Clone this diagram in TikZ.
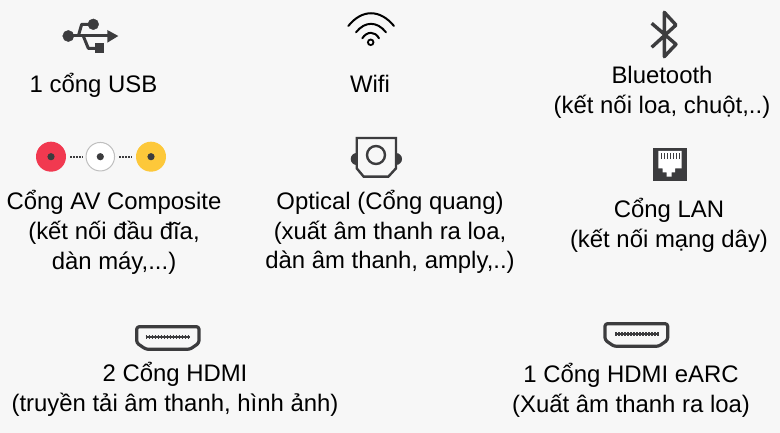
\documentclass[tikz,border=0pt]{standalone}
\usepackage{fontspec}
\setmainfont{Liberation Sans}
\definecolor{bgcol}{RGB}{247,247,247}
\definecolor{icon}{RGB}{60,60,62}
\definecolor{avred}{RGB}{241,57,80}
\definecolor{avyellow}{RGB}{253,200,58}
\tikzset{
label/.style={align=center,text=black,font=\fontsize{23.9}{29.7}\selectfont,inner sep=0pt},
iconline/.style={draw=icon,line width=3pt,line join=round},
thinline/.style={draw=black,line width=2pt,line cap=round},
plug/.style={draw=icon,line width=3.2pt,line join=round,rounded corners=2.5pt},
pins/.style={draw=icon,line width=2pt},
pinteeth/.style={draw=icon,line width=4pt,dash pattern=on 1.5pt off 1.5pt},
jack/.style={circle,minimum size=30pt,inner sep=0pt},
}
\begin{document}
\begin{tikzpicture}[x=1pt,y=-1pt]
\fill[bgcol] (0,0) rectangle (780,433);
\useasboundingbox (0,0) rectangle (780,433);
\draw[iconline] (68,36)--(110,36);
\draw[iconline] (78.3,36)--(81.7,24.3)--(93,24.3);
\draw[iconline] (83.3,36)--(88.3,48.3)--(97,48.3);
\filldraw[icon] (68.3,36) circle[radius=5.6];
\filldraw[icon] (93.3,24.3) circle[radius=5.4];
\fill[icon] (95,43.3) rectangle (104,52.7);
\fill[icon] (107.3,30)--(118.3,36)--(107.3,42.7)--cycle;
\node[label] (usbtext) at (93.5,85) {1 cổng USB};
\draw[thinline] (348.3,26) .. controls (362,9) and (380,9) .. (394,26);
\draw[thinline] (356,32.3) .. controls (365,21) and (377,21) .. (386,32.3);
\draw[thinline] (362.3,38.3) .. controls (367,31) and (375,31) .. (379,38.3);
\draw[black,line width=1.8pt] (370.7,42.3) circle[radius=2.8];
\node[label] (wifitext) at (370,84) {Wifi};
\draw[iconline,line width=3.4pt] (651.7,47.3)--(676,25)--(664.3,12.3)--(664.3,56.7)--(676,44.3)--(651.7,23.3);
\node[label] (bluetext) at (662,92) {Bluetooth\\(kết nối loa, chuột,..)};
\node[jack,fill=avred] (avred) at (51,156.7) {};
\node[jack,fill=white,draw=black!25,line width=1pt,minimum size=28.5pt] (avwhite) at (100.3,156.7) {};
\node[jack,fill=avyellow] (avyellow) at (151,156.7) {};
\fill[icon] (avred) circle[radius=3.6];
\fill[icon] (avwhite) circle[radius=3.6];
\fill[icon] (avyellow) circle[radius=3.6];
\draw[icon,line width=1.8pt,dash pattern=on 2pt off 1pt] (avred)++(19,0)--+(13,0);
\draw[icon,line width=1.8pt,dash pattern=on 2pt off 1pt] (avwhite)++(19,0)--+(13,0);
\node[label] (avtext) at (114,232.5) {Cổng AV Composite\\(kết nối đầu đĩa,\\dàn máy,...)};
\fill[icon] (356.7,153) arc (-90:-270:6) --cycle;
\fill[icon] (396,153) arc (-90:90:6) --cycle;
\draw[icon,line width=2.4pt,fill=bgcol] (356.7,138)--(396,138)--(396,168.3)--(388.3,176.7)--(363.7,176.7)--(356.7,168.3)--cycle;
\draw[icon,line width=2.4pt] (376,155) circle[radius=9];
\node[label] (optictext) at (390,232) {Optical (Cổng quang)\\(xuất âm thanh ra loa,\\dàn âm thanh, amply,..)};
\fill[icon] (652.7,147.7) rectangle (686.7,181);
\fill[white] (658.3,151)--(681.7,151)--(681.7,168.3)--(675,168.3)--(675,172.3)--(671.7,172.3)--(671.7,176.7)--(666.7,176.7)--(666.7,172.3)--(662.7,172.3)--(662.7,168.3)--(658.3,168.3)--cycle;
\foreach \px in {661,664,667,670,673,676,679}
\draw[icon,line width=1pt] (\px,153.5)--(\px,159.5);
\node[label] (lantext) at (669,225) {Cổng LAN\\(kết nối mạng dây)};
\draw[plug] (136.7,326.7)--(199,326.7)--(199,343)--(190,349.3)--(146,349.3)--(136.7,343)--cycle;
\draw[pins] (145.7,336.7)--(190,336.7);
\draw[pinteeth] (145.7,336.7)--(190,336.7);
\node[label] (hdmitext) at (175,389.5) {2 Cổng HDMI\\(truyền tải âm thanh, hình ảnh)};
\draw[plug] (605,323.7)--(667.7,323.7)--(667.7,340)--(658.7,346.3)--(614,346.3)--(605,340)--cycle;
\draw[pins] (615,333.7)--(659,333.7);
\draw[pinteeth] (615,333.7)--(659,333.7);
\node[label] (earctext) at (631,390.5) {1 Cổng HDMI eARC\\(Xuất âm thanh ra loa)};
\end{tikzpicture}
\end{document}
